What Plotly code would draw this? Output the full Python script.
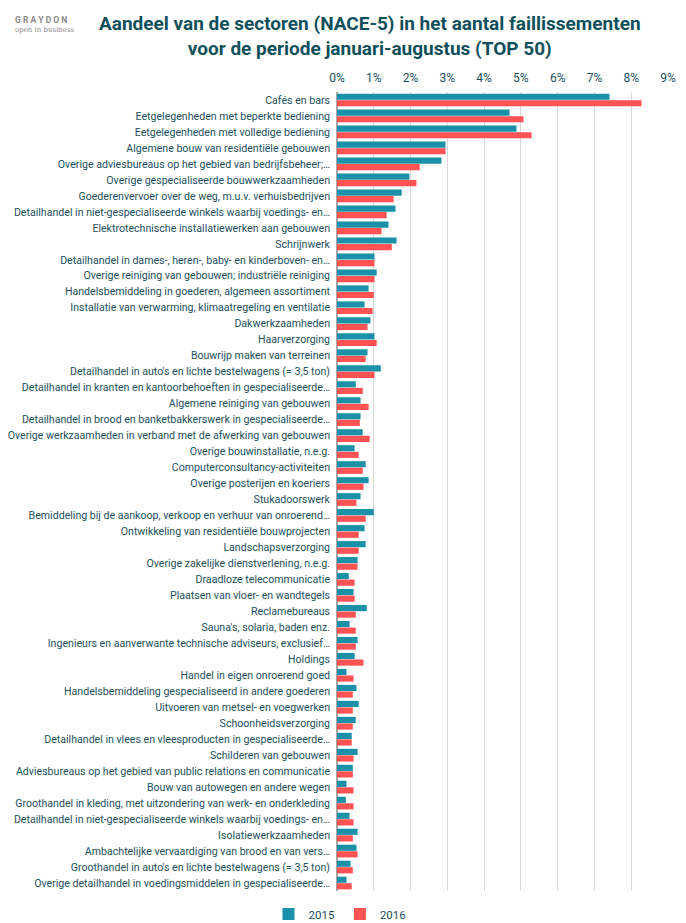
import plotly.graph_objects as go

categories = [
    "Cafés en bars",
    "Eetgelegenheden met beperkte bediening",
    "Eetgelegenheden met volledige bediening",
    "Algemene bouw van residentiële gebouwen",
    "Overige adviesbureaus op het gebied van bedrijfsbeheer;…",
    "Overige gespecialiseerde bouwwerkzaamheden",
    "Goederenvervoer over de weg, m.u.v. verhuisbedrijven",
    "Detailhandel in niet-gespecialiseerde winkels waarbij voedings- en…",
    "Elektrotechnische installatiewerken aan gebouwen",
    "Schrijnwerk",
    "Detailhandel in dames-, heren-, baby- en kinderboven- en…",
    "Overige reiniging van gebouwen; industriële reiniging",
    "Handelsbemiddeling in goederen, algemeen assortiment",
    "Installatie van verwarming, klimaatregeling en ventilatie",
    "Dakwerkzaamheden",
    "Haarverzorging",
    "Bouwrijp maken van terreinen",
    "Detailhandel in auto's en lichte bestelwagens (= 3,5 ton)",
    "Detailhandel in kranten en kantoorbehoeften in gespecialiseerde…",
    "Algemene reiniging van gebouwen",
    "Detailhandel in brood en banketbakkerswerk in gespecialiseerde…",
    "Overige werkzaamheden in verband met de afwerking van gebouwen",
    "Overige bouwinstallatie, n.e.g.",
    "Computerconsultancy-activiteiten",
    "Overige posterijen en koeriers",
    "Stukadoorswerk",
    "Bemiddeling bij de aankoop, verkoop en verhuur van onroerend…",
    "Ontwikkeling van residentiële bouwprojecten",
    "Landschapsverzorging",
    "Overige zakelijke dienstverlening, n.e.g.",
    "Draadloze telecommunicatie",
    "Plaatsen van vloer- en wandtegels",
    "Reclamebureaus",
    "Sauna's, solaria, baden enz.",
    "Ingenieurs en aanverwante technische adviseurs, exclusief…",
    "Holdings",
    "Handel in eigen onroerend goed",
    "Handelsbemiddeling gespecialiseerd in andere goederen",
    "Uitvoeren van metsel- en voegwerken",
    "Schoonheidsverzorging",
    "Detailhandel in vlees en vleesproducten in gespecialiseerde…",
    "Schilderen van gebouwen",
    "Adviesbureaus op het gebied van public relations en communicatie",
    "Bouw van autowegen en andere wegen",
    "Groothandel in kleding, met uitzondering van werk- en onderkleding",
    "Detailhandel in niet-gespecialiseerde winkels waarbij voedings- en…",
    "Isolatiewerkzaamheden",
    "Ambachtelijke vervaardiging van brood en van vers…",
    "Groothandel in auto's en lichte bestelwagens (= 3,5 ton)",
    "Overige detailhandel in voedingsmiddelen in gespecialiseerde…",
]

values_2015 = [7.41, 4.69, 4.88, 2.95, 2.84, 1.97, 1.76, 1.59, 1.40, 1.62,
               1.02, 1.08, 0.86, 0.75, 0.91, 1.02, 0.83, 1.19, 0.51, 0.64,
               0.64, 0.70, 0.48, 0.78, 0.86, 0.64, 1.00, 0.75, 0.78, 0.56,
               0.32, 0.45, 0.81, 0.34, 0.56, 0.48, 0.26, 0.53, 0.59, 0.51,
               0.40, 0.56, 0.43, 0.26, 0.24, 0.34, 0.56, 0.53, 0.37, 0.26]

values_2016 = [8.28, 5.07, 5.29, 2.95, 2.25, 2.16, 1.54, 1.35, 1.21, 1.49,
               1.02, 1.02, 1.00, 0.97, 0.83, 1.08, 0.78, 1.02, 0.70, 0.86,
               0.62, 0.89, 0.59, 0.70, 0.72, 0.53, 0.78, 0.59, 0.59, 0.56,
               0.48, 0.48, 0.51, 0.51, 0.51, 0.72, 0.45, 0.43, 0.43, 0.43,
               0.40, 0.45, 0.43, 0.45, 0.45, 0.45, 0.43, 0.56, 0.43, 0.40]

series_names = ["2015", "2016"]
tick_values = list(range(0, 10))
tick_labels = [f"{v}%" for v in tick_values]

TEAL = "#1b91a9"
RED = "#ff5252"
TEXT = "#1d4f5e"

ids = list(range(len(categories)))

fig = go.Figure()
fig.add_trace(go.Bar(y=ids, x=values_2015, orientation="h", name=series_names[0],
                     marker=dict(color=TEAL, line=dict(width=0))))
fig.add_trace(go.Bar(y=ids, x=values_2016, orientation="h", name=series_names[1],
                     marker=dict(color=RED, line=dict(width=0))))

# page has an 8px body margin; work in page pixel coordinates
O = 8
PW, PH = 686, 923
W, H = PW - O, PH - O
L_page, R_page, T_page, B_page = 337, 668, 91.5, 891
L = L_page - O
T = T_page - O
R = W - (R_page - O)
B = H - (B_page - O)
pw = W - L - R
ph = H - T - B

def px_x(x):
    return (x - O - L) / pw

def px_y(y):
    return (H - B - (y - O)) / ph

fig.update_layout(
    width=W, height=H,
    margin=dict(l=L, r=R, t=T, b=B, autoexpand=False),
    paper_bgcolor="white", plot_bgcolor="white",
    barmode="group", bargap=0.18, bargroupgap=0.06,
    font=dict(family="Roboto", color=TEXT, size=10),
    xaxis=dict(
        side="top", range=[0, 9], tickvals=tick_values, ticktext=tick_labels,
        showgrid=True, gridcolor="#d9d9d9", gridwidth=1,
        zeroline=True, zerolinecolor="#a6a6a6", zerolinewidth=1.5,
        tickfont=dict(size=12, color=TEXT), ticks="", fixedrange=True,
        ticklabelstandoff=7,
    ),
    yaxis=dict(
        tickvals=ids, ticktext=categories, autorange="reversed",
        showgrid=False, zeroline=False, ticks="",
        tickfont=dict(size=10.6, color=TEXT), ticklabelstandoff=6,
    ),
    legend=dict(
        orientation="h", xref="container", yref="container",
        x=(340 - O) / W, xanchor="center", y=1 - (914 - O) / H, yanchor="middle",
        font=dict(size=11.5, color=TEXT), itemwidth=30, itemclick=False,
        traceorder="normal",
    ),
    showlegend=True,
)

fig.add_annotation(
    x=px_x(370), y=px_y(35), xref="paper", yref="paper",
    xanchor="center", yanchor="middle", showarrow=False,
    text="<b>Aandeel van de sectoren (NACE-5) in het aantal faillissementen<br>voor de periode januari-augustus (TOP 50)</b>",
    font=dict(family="Roboto", size=19, color="#0f4f5c"),
)
fig.add_annotation(
    x=px_x(13), y=px_y(19), xref="paper", yref="paper",
    xanchor="left", yanchor="middle", showarrow=False,
    text="<b>G R A Y D O N</b>", font=dict(family="Roboto", size=8.5, color="#8a8a8a"),
)
fig.add_annotation(
    x=px_x(13), y=px_y(29), xref="paper", yref="paper",
    xanchor="left", yanchor="middle", showarrow=False,
    text="open in business", font=dict(family="DejaVu Serif", size=7, color="#8a8a8a"),
)

fig.write_html("out.html")
